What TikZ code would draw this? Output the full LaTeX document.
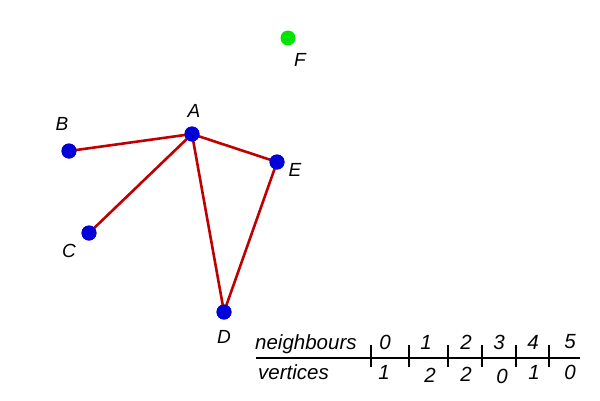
\documentclass[tikz,border=0pt]{standalone}
\usepackage{fontspec}
\setmainfont{Liberation Sans}
\usetikzlibrary{calc}

\tikzset{
  vertex/.style={circle, fill=blue!85!black, inner sep=0pt, minimum size=15pt},
  lonely/.style={circle, fill=green!90!black, inner sep=0pt, minimum size=15pt},
  edge/.style={draw=red!75!black, line width=2.6pt},
  lbl/.style={font=\fontsize{19}{22}\selectfont\itshape, inner sep=0pt},
  tbl/.style={font=\fontsize{20.5}{24}\selectfont\itshape, inner sep=0pt}
}

\begin{document}
\begin{tikzpicture}[x=1pt, y=-1pt]
  \useasboundingbox (0,0) rectangle (600,400);

  % --- vertices ---
  \node[vertex] (A) at (192,134) {};
  \node[vertex] (B) at (69,151) {};
  \node[vertex] (C) at (89,233) {};
  \node[vertex] (D) at (224,312) {};
  \node[vertex] (E) at (277,162) {};
  \node[lonely] (F) at (288,38) {};

  % --- edges ---
  \draw[edge] (B.center) -- (A.center);
  \draw[edge] (C.center) -- (A.center);
  \draw[edge] (A.center) -- (E.center);
  \draw[edge] (A.center) -- (D.center);
  \draw[edge] (E.center) -- (D.center);
  \foreach \v in {A,B,C,D,E} \node[vertex] at (\v) {};

  % --- vertex labels ---
  \node[lbl] (lA) at (194,111) {A};
  \node[lbl] (lB) at (62,124) {B};
  \node[lbl] (lC) at (69,251) {C};
  \node[lbl] (lD) at (224,337) {D};
  \node[lbl] (lE) at (295,170) {E};
  \node[lbl] (lF) at (300,60) {F};

  % --- degree table ---
  \coordinate (rowL) at (256,358);
  \coordinate (rowR) at (580,358);
  \draw[line width=1.6pt] (rowL) -- (rowR);
  \node[tbl, anchor=west] (nb) at (255,344) {neighbours};
  \node[tbl, anchor=west] (vx) at (258,372) {vertices};
  \foreach \x in {371,409,448,482,516,549}
    \draw[line width=1.6pt] (\x,345) -- (\x,367);
  \foreach \x/\n in {385/0,426/1,466/2,499/3,533/4,570/5}
    \node[tbl] (n\n) at (\x,342) {\n};
  \foreach \x/\y/\m [count=\i] in {384/372/1,430/375/2,466/374/2,502/376/0,534/372/1,570/372/0}
    \node[tbl] (v\i) at (\x,\y) {\m};
\end{tikzpicture}
\end{document}
